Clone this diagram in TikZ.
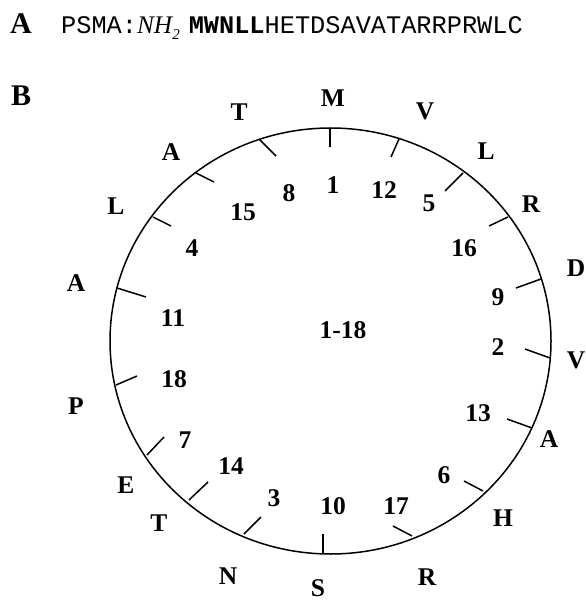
\documentclass[tikz,border=0pt]{standalone}
\usepackage{fontspec}
\setmainfont{Liberation Serif}
\setmonofont{Liberation Mono}
\begin{document}
\begin{tikzpicture}[x=1pt,y=-1pt,
  lab/.style={font=\fontsize{25.5}{25.5}\selectfont\bfseries, inner sep=0pt,
              text height=17.2pt, text depth=0pt, anchor=center},
  panel/.style={font=\fontsize{30}{30}\selectfont\bfseries, inner sep=0pt, anchor=base west},
  wheel/.style={line width=1.5pt},
  tickmark/.style={line width=1.5pt}]
\useasboundingbox (0,0) rectangle (585,601);

% panel A
\node[panel] (pA) at (10,34) {A};
\node[inner sep=0pt, anchor=base west] (seq) at (61,34)
  {\fontsize{25.3}{25.3}\selectfont\ttfamily PSMA:{\rmfamily\itshape NH}\raisebox{-6pt}{\fontsize{15}{15}\selectfont\rmfamily\itshape 2}\hspace{9pt}\textbf{MWNLL}HETDSAVATARRPRWLC};

% panel B
\node[panel] (pB) at (11,106) {B};

\coordinate (c) at (330.5,341);
\draw[wheel] (c) ellipse [x radius=220.5pt, y radius=213pt];

% ticks (outer point on circle -- inner end)
\draw[tickmark] (330,128) -- (330,147);
\draw[tickmark] (399,139) -- (391,157);
\draw[tickmark] (463,173) -- (445,191);
\draw[tickmark] (508,217) -- (489,226);
\draw[tickmark] (541,279) -- (516,288);
\draw[tickmark] (550,358) -- (525,349);
\draw[tickmark] (532,428) -- (507,419);
\draw[tickmark] (483,491) -- (464,481);
\draw[tickmark] (412,536) -- (393,526);
\draw[tickmark] (323,554) -- (323,534);
\draw[tickmark] (244,534) -- (261,517);
\draw[tickmark] (189,500) -- (208,482);
\draw[tickmark] (147,455) -- (164,437);
\draw[tickmark] (116,385) -- (137,376);
\draw[tickmark] (117,288) -- (146,297);
\draw[tickmark] (153,217) -- (171,226);
\draw[tickmark] (196,173) -- (214,182);
\draw[tickmark] (259,139) -- (276,156);

% residue letters
\node[lab] (r1)  at (333,98)  {M};
\node[lab] (r12) at (425,111) {V};
\node[lab] (r5)  at (486,151) {L};
\node[lab] (r16) at (531,204) {R};
\node[lab] (r9)  at (576,268) {D};
\node[lab] (r2)  at (576,360) {V};
\node[lab] (r13) at (549,439) {A};
\node[lab] (r6)  at (503,518) {H};
\node[lab] (r17) at (427,577) {R};
\node[lab] (r10) at (318,588) {S};
\node[lab] (r3)  at (228,576) {N};
\node[lab] (r14) at (159,523) {T};
\node[lab] (r7)  at (126,485) {E};
\node[lab] (r18) at (76,406)  {P};
\node[lab] (r11) at (76,283)  {A};
\node[lab] (r4)  at (116,206) {L};
\node[lab] (r15) at (171,152) {A};
\node[lab] (r8)  at (239,112) {T};

% residue numbers
\node[lab] (n1)  at (333,185) {1};
\node[lab] (n12) at (384,190) {12};
\node[lab] (n5)  at (429,203) {5};
\node[lab] (n16) at (464,248) {16};
\node[lab] (n9)  at (498,297) {9};
\node[lab] (n2)  at (498,347) {2};
\node[lab] (n13) at (478,413) {13};
\node[lab] (n6)  at (444,475) {6};
\node[lab] (n17) at (396,506) {17};
\node[lab] (n10) at (333,506) {10};
\node[lab] (n3)  at (274,498) {3};
\node[lab] (n14) at (231,466) {14};
\node[lab] (n7)  at (185,440) {7};
\node[lab] (n18) at (174,379) {18};
\node[lab] (n11) at (173,318) {11};
\node[lab] (n4)  at (192,248) {4};
\node[lab] (n15) at (243,212) {15};
\node[lab] (n8)  at (289,193) {8};
\node[lab] (all) at (343,330) {1-18};
\end{tikzpicture}
\end{document}
